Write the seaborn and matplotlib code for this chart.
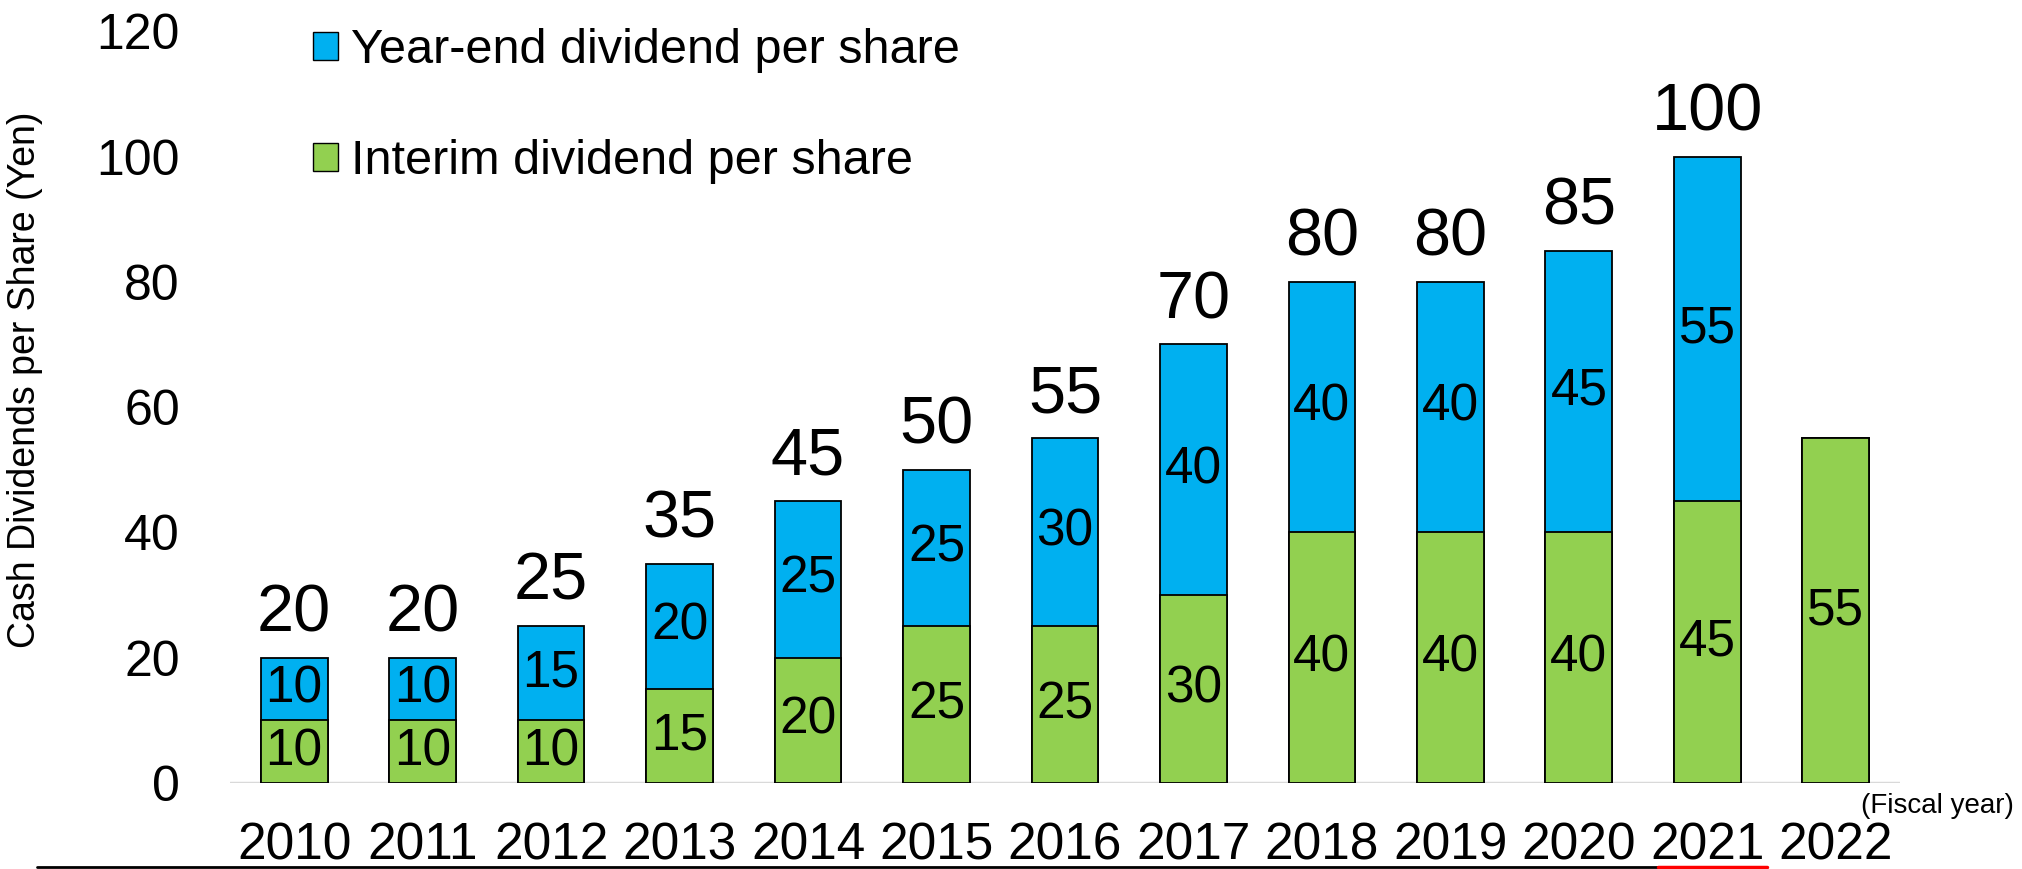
import matplotlib
matplotlib.use("Agg")
import matplotlib.pyplot as plt
import seaborn as sns
import pandas as pd
from matplotlib import font_manager as fm
from matplotlib.patches import Patch
from matplotlib.lines import Line2D

years = ["2010", "2011", "2012", "2013", "2014", "2015", "2016",
         "2017", "2018", "2019", "2020", "2021", "2022"]
interim = [10, 10, 10, 15, 20, 25, 25, 30, 40, 40, 40, 45, 55]
year_end = [10, 10, 15, 20, 25, 25, 30, 40, 40, 40, 45, 55, 0]
yticks = [0, 20, 40, 60, 80, 100, 120]

BLUE = "#00B0F0"
GREEN = "#92D050"

sns.set_style("white")
plt.rcParams["font.family"] = ["Liberation Sans", "DejaVu Sans"]
plt.rcParams.update({"text.color": "black", "axes.labelcolor": "black",
                     "xtick.color": "black", "ytick.color": "black",
                     "legend.labelcolor": "black"})

totals = [a + b for a, b in zip(interim, year_end)]
df = pd.DataFrame({"year": years, "interim": interim,
                   "year_end": year_end, "total": totals})

fig = plt.figure(figsize=(20.22, 8.69), dpi=100)
ax = fig.add_axes([0.1137, 0.099, 0.826, 0.865])

sns.barplot(data=df, x="year", y="total", color=BLUE, saturation=1,
            width=0.52, edgecolor="black", linewidth=1.3, ax=ax, zorder=2)
sns.barplot(data=df, x="year", y="interim", color=GREEN, saturation=1,
            width=0.52, edgecolor="black", linewidth=1.3, ax=ax, zorder=3)

ax.axhline(0, color="#D9D9D9", lw=2.5, zorder=1)

# segment labels
for i, (a, b) in enumerate(zip(interim, year_end)):
    ax.text(i, a / 2, str(a), ha="center", va="center", fontsize=37,
            color="black", zorder=5)
    if b > 0:
        ax.text(i, a + b / 2, str(b), ha="center", va="center", fontsize=37,
                color="black", zorder=5)
        ax.annotate(str(a + b), xy=(i, a + b), xytext=(0, 19),
                    textcoords="offset points", ha="center", va="baseline",
                    fontsize=48, color="black")

ax.set_xlim(-0.5, 12.5)
ax.set_ylim(0, 120)
ax.set_yticks(yticks)
ax.set_yticklabels([str(v) for v in yticks])
ax.tick_params(axis="y", length=0, pad=36, labelsize=36, labelcolor="black")
ax.tick_params(axis="x", length=0, pad=28, labelsize=37, labelcolor="black")
for s in ax.spines.values():
    s.set_visible(False)
ax.set_xlabel("")
ax.set_ylabel("Cash Dividends per Share (Yen)", fontsize=27, color="black")
ax.yaxis.label.set_verticalalignment("center")
ax.yaxis.set_label_coords(0.0125, 0.5627, transform=fig.transFigure)

handles = [Patch(facecolor=BLUE, edgecolor="black", linewidth=1),
           Patch(facecolor=GREEN, edgecolor="black", linewidth=1)]
leg = ax.legend(handles, ["Year-end dividend per share", "Interim dividend per share"],
                loc="upper left", bbox_to_anchor=(0.1548, 0.968),
                bbox_transform=fig.transFigure, frameon=False,
                prop=fm.FontProperties(size=35), labelcolor="black",
                handlelength=0.51, handleheight=0.51, handletextpad=0.27,
                labelspacing=1.36, borderpad=0, borderaxespad=0)

fig.text(0.996, 0.0725, "(Fiscal year)", ha="right", va="center", fontsize=20,
         color="black")

# underline artifacts at the bottom
fig.add_artist(Line2D([37 / 2022, 1658 / 2022], [1 - 867 / 869] * 2,
                      color="black", lw=2))
fig.add_artist(Line2D([1658 / 2022, 1767 / 2022], [1 - 867 / 869] * 2,
                      color="#FF0000", lw=2.5))

fig.savefig("out.png", dpi=100)
